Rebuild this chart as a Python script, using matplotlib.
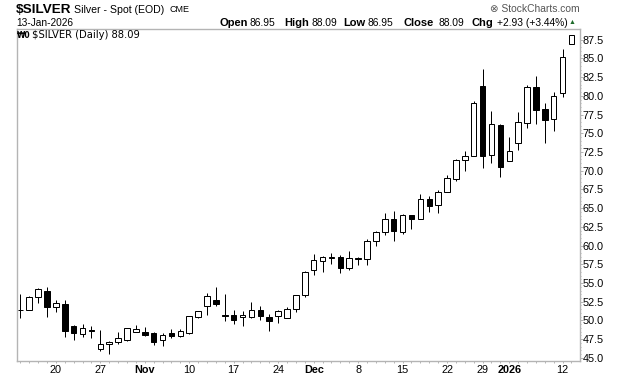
import matplotlib
matplotlib.use('Agg')
import matplotlib.pyplot as plt
import numpy as np

plt.rcParams['font.family'] = ['Liberation Sans', 'DejaVu Sans']

# one entry per trading day (14 Oct 2025 - 13 Jan 2026)
opens = [51.35, 51.35, 53.08, 53.93, 51.84, 52.15, 49.25, 48.14, 48.72, 46.23,
         46.81, 47.07, 47.34, 48.41, 48.41, 48.32, 47.34, 48.27, 47.96, 48.27,
         50.41, 51.93, 52.73, 50.69, 50.73, 50.42, 50.51, 51.35, 50.42, 50.55,
         50.29, 51.49, 53.36, 56.70, 57.90, 58.40, 58.43, 57.05, 58.30, 58.17,
         60.57, 61.76, 63.54, 61.76, 64.03, 63.60, 66.18, 65.38, 67.20, 68.94,
         71.38, 71.90, 81.27, 72.05, 76.10, 71.25, 73.65, 76.33, 81.13, 78.20,
         76.86, 80.33, 86.95]
highs = [53.53, 53.26, 54.29, 54.42, 52.68, 52.68, 49.34, 49.48, 49.25, 48.72,
         47.25, 48.45, 48.94, 49.39, 49.12, 48.41, 48.27, 48.81, 48.81, 50.59,
         51.20, 53.62, 54.47, 53.54, 51.40, 51.27, 52.47, 51.93, 50.82, 51.35,
         51.75, 53.36, 56.56, 58.88, 58.61, 59.01, 58.70, 59.28, 58.52, 60.84,
         61.95, 64.30, 64.61, 64.17, 64.08, 66.85, 66.62, 67.38, 69.39, 71.52,
         72.63, 79.26, 83.58, 77.97, 76.19, 74.50, 77.80, 81.40, 82.65, 79.04,
         80.51, 86.21, 88.09]
lows = [50.37, 51.35, 52.37, 50.50, 51.17, 47.83, 47.43, 47.83, 47.70, 45.96,
        45.51, 46.81, 47.20, 48.41, 47.92, 46.76, 46.63, 47.61, 47.83, 48.14,
        50.28, 50.77, 51.93, 49.97, 49.57, 49.31, 50.37, 50.11, 48.59, 49.71,
        50.29, 51.18, 53.18, 56.07, 56.52, 57.50, 56.39, 56.79, 57.45, 57.45,
        59.99, 61.36, 60.65, 61.59, 62.16, 63.60, 64.53, 64.40, 67.20, 68.67,
        70.00, 71.90, 70.40, 71.07, 69.20, 71.25, 72.76, 75.75, 76.28, 73.74,
        75.35, 79.89, 86.95]
closes = [51.38, 53.08, 54.15, 51.84, 52.28, 48.63, 48.36, 48.94, 48.54, 46.81,
          47.12, 47.61, 48.94, 48.81, 48.00, 47.16, 48.00, 47.92, 48.54, 50.55,
          51.20, 53.20, 52.24, 50.55, 50.11, 50.69, 51.35, 50.64, 49.97, 51.31,
          51.49, 53.36, 56.43, 58.03, 58.43, 58.46, 57.05, 58.30, 58.17, 60.57,
          61.77, 63.54, 61.99, 64.03, 63.60, 66.18, 65.33, 67.11, 68.98, 71.39,
          71.90, 79.00, 72.00, 76.19, 70.54, 72.59, 76.46, 81.13, 78.15, 76.80,
          79.93, 85.14, 88.09]

x_tick_pos = [4, 9, 14, 19, 24, 29, 33, 38, 43, 48, 52, 55, 61]
x_tick_labels = ['20', '27', 'Nov', '10', '17', '24', 'Dec', '8', '15', '22', '29', '2026', '12']
bold_labels = ['Nov', 'Dec', '2026']
y_ticks = [45.0, 47.5, 50.0, 52.5, 55.0, 57.5, 60.0, 62.5, 65.0, 67.5, 70.0,
           72.5, 75.0, 77.5, 80.0, 82.5, 85.0, 87.5]

W, H = 620, 376
grey = '#b4b4b4'
px = 72 / 100  # one pixel in points


def put(x, y, s, **kw):
    kw.setdefault('va', 'center')
    kw.setdefault('color', 'black')
    fig.text(x / W, 1 - y / H, s, **kw)


fig = plt.figure(figsize=(W / 100, H / 100), dpi=100)
ax = fig.add_axes([16.5 / W, 1 - 360.5 / H, (579.5 - 16.5) / W, (360.5 - 29) / H])

idx = np.arange(len(opens))
o = np.array(opens)
c = np.array(closes)
ax.vlines(idx, lows, highs, color='black', lw=px, zorder=2)
ax.bar(idx, c - o, bottom=o, width=0.62,
       color=['white' if a >= b else 'black' for a, b in zip(closes, opens)],
       edgecolor='black', lw=px, zorder=3)

ax.set_xlim(-0.43, 62.9)
ax.set_ylim(44.65, 88.93)

for s in ax.spines.values():
    s.set_color(grey)
    s.set_linewidth(1.4 * px)

ax.yaxis.tick_right()
ax.set_yticks(y_ticks)
ax.set_yticks(np.arange(45, 88, 0.5), minor=True)
ax.set_yticklabels(['%.1f' % v for v in y_ticks], fontsize=7.8)
ax.tick_params(axis='y', which='major', length=2, width=0.7, color=grey, pad=0.5)
ax.tick_params(axis='y', which='minor', length=1, width=0.7, color=grey)

ax.set_xticks(idx, minor=True)
ax.set_xticks(x_tick_pos)
ax.set_xticklabels(x_tick_labels, fontsize=7.8)
for t in ax.get_xticklabels():
    if t.get_text() in bold_labels:
        t.set_fontweight('bold')
ax.tick_params(axis='x', which='both', length=1.5, width=0.7, color=grey, pad=2)

# header
put(16, 10, '$SILVER', fontsize=9.7, fontweight='bold')
put(74, 10, 'Silver - Spot (EOD)', fontsize=7.6)
put(170, 10, 'CME', fontsize=6.5)
put(16, 22.5, '13-Jan-2026', fontsize=7.3)
put(490, 9.5, '\u2297 StockCharts.com', fontsize=7.4, color='#555555')

for x, s, b in [(219, 'Open', True), (250, '86.95', False), (284, 'High', True),
                (311, '88.09', False), (343.5, 'Low', True), (368, '86.95', False),
                (404, 'Close', True), (439, '88.09', False), (471.5, 'Chg', True),
                (497, '+2.93 (+3.44%)', False)]:
    put(x, 22.5, s, fontsize=8 if b else 7.4, fontweight='bold' if b else 'normal')
put(572, 23, '\u25b2', fontsize=5, color='#1d6b2a', ha='center')

put(17, 35, '\u20a90', fontsize=5.5, fontweight='bold', family='DejaVu Sans')
put(32, 35, '$SILVER (Daily) 88.09', fontsize=7.2, family='DejaVu Sans')

fig.savefig('out.png', dpi=100)
